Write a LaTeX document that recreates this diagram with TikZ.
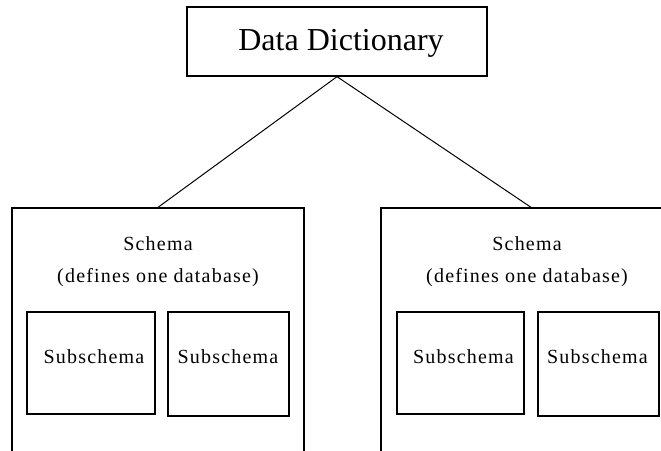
\documentclass[tikz,border=0pt]{standalone}
\usepackage{fontspec}
\setmainfont{Liberation Serif}
\begin{document}
\begin{tikzpicture}[x=1pt,y=-1pt,
  box/.style={draw=black,line width=1.3pt,rectangle,inner sep=0pt},
  bigtext/.style={anchor=base,inner sep=0pt,font=\fontsize{32}{38}\selectfont},
  smalltext/.style={anchor=base,inner sep=0pt,font=\fontsize{20}{24}\selectfont\addfontfeature{LetterSpace=6}},
  link/.style={draw=black,line width=1pt}]
\clip (0,0) rectangle (661,450);
% top box
\node[box,minimum width=300pt,minimum height=69pt] (dd) at (337,41.5) {};
\node[bigtext] (ddt) at (341,50) {Data Dictionary};
% schema boxes
\node[box,minimum width=292pt,minimum height=300pt] (ls) at (158,358) {};
\node[box,minimum width=292pt,minimum height=300pt] (rs) at (527,358) {};
\coordinate (rsj) at (532,208);
\node[smalltext] (lst1) at (158,250) {Schema};
\node[smalltext] (lst2) at (158,282) {(defines one database)};
\node[smalltext] (rst1) at (527,250) {Schema};
\node[smalltext] (rst2) at (527,282) {(defines one database)};
% subschemas
\node[box,minimum width=128pt,minimum height=102pt] (l1) at (91,363) {};
\node[box,minimum width=121pt,minimum height=104pt] (l2) at (228.5,364) {};
\node[box,minimum width=127pt,minimum height=102pt] (r1) at (460.5,363) {};
\node[box,minimum width=121pt,minimum height=104pt] (r2) at (598.5,364) {};
\node[smalltext] (l1t) at (94,363) {Subschema};
\node[smalltext] (l2t) at (228,363) {Subschema};
\node[smalltext] (r1t) at (463.5,363) {Subschema};
\node[smalltext] (r2t) at (597.5,363) {Subschema};
% connectors
\draw[link] (dd.south) -- (ls.north);
\draw[link] (dd.south) -- (rsj);
\end{tikzpicture}
\end{document}
